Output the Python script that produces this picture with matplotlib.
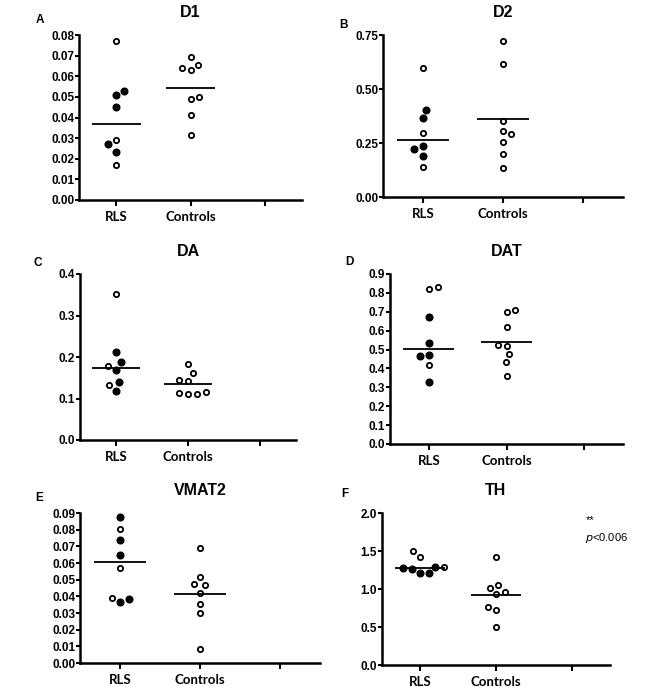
import numpy as np
import matplotlib.pyplot as plt
from matplotlib import font_manager
from matplotlib.transforms import blended_transform_factory

# ---- data ----
# RLS group: values plus a flag for the filled (black) symbols
d1_rls = [0.077, 0.051, 0.053, 0.045, 0.029, 0.027, 0.0235, 0.017]
d1_rls_filled = [0, 1, 1, 1, 0, 1, 1, 0]
d1_ctrl = [0.063, 0.0655, 0.064, 0.0695, 0.049, 0.050, 0.041, 0.0315]

d2_rls = [0.596, 0.365, 0.4035, 0.296, 0.234, 0.222, 0.188, 0.139]
d2_rls_filled = [0, 1, 1, 0, 1, 1, 1, 0]
d2_ctrl = [0.724, 0.615, 0.306, 0.290, 0.353, 0.253, 0.199, 0.136]

da_rls = [0.352, 0.213, 0.169, 0.187, 0.178, 0.119, 0.139, 0.133]
da_rls_filled = [0, 1, 1, 1, 0, 1, 1, 0]
da_ctrl = [0.182, 0.143, 0.161, 0.145, 0.111, 0.111, 0.114, 0.116]

dat_rls = [0.819, 0.829, 0.672, 0.536, 0.420, 0.469, 0.468, 0.328]
dat_rls_filled = [0, 0, 1, 1, 0, 1, 1, 1]
dat_ctrl = [0.697, 0.708, 0.619, 0.521, 0.524, 0.476, 0.432, 0.362]

vmat2_rls = [0.0876, 0.0806, 0.0741, 0.0647, 0.0568, 0.0366, 0.0382, 0.0388]
vmat2_rls_filled = [1, 0, 1, 1, 0, 1, 1, 0]
vmat2_ctrl = [0.0693, 0.0514, 0.0422, 0.0468, 0.0474, 0.0356, 0.0301, 0.0084]

th_rls = [1.208, 1.208, 1.427, 1.501, 1.265, 1.291, 1.274, 1.287]
th_rls_filled = [1, 1, 0, 0, 1, 1, 1, 0]
th_ctrl = [1.418, 0.932, 0.967, 1.015, 1.055, 0.722, 0.766, 0.503]

groups = ['RLS', 'Controls', '']
titles = ['D1', 'D2', 'DA', 'DAT', 'VMAT2', 'TH']
letters = ['A', 'B', 'C', 'D', 'E', 'F']
yticks = [np.arange(0, 0.081, 0.01), [0, 0.25, 0.5, 0.75], np.arange(0, 0.41, 0.1),
          np.arange(0, 0.91, 0.1), np.arange(0, 0.091, 0.01), np.arange(0, 2.01, 0.5)]
yfmt = ['%.2f', '%.2f', '%.1f', '%.1f', '%.2f', '%.1f']

# ---- layout (pixels) ----
W, H = 661, 687
boxes = [(79, 35, 302, 200), (383, 35, 623, 197), (80, 274, 296, 440),
         (390, 274, 623, 444), (80, 513, 320, 663), (382, 513, 610, 665)]
letter_pos = [(40, 20), (343, 25), (38, 263), (349, 262), (39, 498), (345, 494)]

names = {f.name for f in font_manager.fontManager.ttflist}
tick_font = 'Liberation Sans Narrow' if 'Liberation Sans Narrow' in names else 'Liberation Sans'
cat_font = 'Lato'


def swarm(vals, py_unit, px_unit, diam=9.0):
    # simple beeswarm: shift each point sideways just enough to avoid overlap,
    # ties go to the side holding fewer points so far
    placed = []
    offs = []
    for v in vals:
        y = v * py_unit
        cands = [0.0]
        blocks = []
        for px, py in placed:
            dy = abs(py - y)
            if dy < diam:
                hw = np.sqrt(diam ** 2 - dy ** 2)
                blocks.append((px - hw, px + hw))
                cands += [px - hw, px + hw]
        n_left = sum(1 for px, _ in placed if px < -1e-6)
        n_right = sum(1 for px, _ in placed if px > 1e-6)
        side = 1 if n_right <= n_left else -1
        cands.sort(key=lambda c: (round(abs(c), 3), -side * c))
        best = 0.0
        for c in cands:
            if all(not (lo + 1e-6 < c < hi - 1e-6) for lo, hi in blocks):
                best = c
                break
        placed.append((best, y))
        offs.append(best / px_unit)
    return np.array(offs)


panels = [
    (d1_rls, d1_rls_filled, d1_ctrl),
    (d2_rls, d2_rls_filled, d2_ctrl),
    (da_rls, da_rls_filled, da_ctrl),
    (dat_rls, dat_rls_filled, dat_ctrl),
    (vmat2_rls, vmat2_rls_filled, vmat2_ctrl),
    (th_rls, th_rls_filled, th_ctrl),
]

fig = plt.figure(figsize=(W / 100, H / 100), dpi=100)

for i, (rls, filled, ctrl) in enumerate(panels):
    l, t, r, b = boxes[i]
    ax = fig.add_axes([l / W, 1 - b / H, (r - l) / W, (b - t) / H])
    xlim = (0.5, 3.5)
    ymax = yticks[i][-1]
    ax.set_xlim(*xlim)
    ax.set_ylim(0, ymax)
    py_unit = (b - t) / ymax
    px_unit = (r - l) / (xlim[1] - xlim[0])

    rls = np.array(rls)
    ctrl = np.array(ctrl)
    filled = np.array(filled, dtype=bool)
    xr = 1 + swarm(rls, py_unit, px_unit)
    xc = 2 + swarm(ctrl, py_unit, px_unit)

    ax.plot(xr[filled], rls[filled], 'o', ms=4.8, mfc='black', mec='black', mew=1.0,
            ls='', clip_on=False, zorder=3)
    ax.plot(xr[~filled], rls[~filled], 'o', ms=3.8, mfc='white', mec='black', mew=1.3,
            ls='', clip_on=False, zorder=3)
    ax.plot(xc, ctrl, 'o', ms=3.8, mfc='white', mec='black', mew=1.3,
            ls='', clip_on=False, zorder=3)

    # centre lines: median for RLS, mean for controls
    ax.hlines(np.median(rls), 1 - 0.33, 1 + 0.33, color='black', lw=1.3, zorder=4)
    ax.hlines(np.mean(ctrl), 2 - 0.33, 2 + 0.33, color='black', lw=1.3, zorder=4)

    for s in ['top', 'right']:
        ax.spines[s].set_visible(False)
    for s in ['left', 'bottom']:
        ax.spines[s].set_linewidth(1.8)
    ax.set_yticks(yticks[i])
    ax.set_yticklabels([yfmt[i] % v for v in yticks[i]], fontfamily=tick_font,
                       fontweight='bold', fontsize=8.5)
    ax.set_xticks([1, 2, 3])
    ax.set_xticklabels(groups, fontfamily=cat_font, fontweight='bold', fontsize=9.5)
    ax.tick_params(axis='y', length=3, width=1.5, pad=0.5)
    ax.tick_params(axis='x', length=4, width=1.5, pad=4)

    tr = blended_transform_factory(ax.transData, ax.transAxes)
    ax.annotate(titles[i], xy=(2, 1), xycoords=tr, xytext=(0, 16.5),
                textcoords='offset points', ha='center', va='center',
                fontfamily='Liberation Sans', fontweight='bold', fontsize=11.5)

    lx, ly = letter_pos[i]
    fig.text(lx / W, 1 - ly / H, letters[i], ha='center', va='center',
             fontfamily='Liberation Sans', fontweight='bold', fontsize=8.5)

fig.text(586 / W, 1 - 520 / H, '**', ha='left', va='center',
         fontfamily='Liberation Sans', fontsize=8)
fig.text(585 / W, 1 - 538 / H, r'$\it{p}$<0.006', ha='left', va='center',
         fontfamily='Liberation Sans', fontsize=8)

fig.savefig('out.png', dpi=100)
